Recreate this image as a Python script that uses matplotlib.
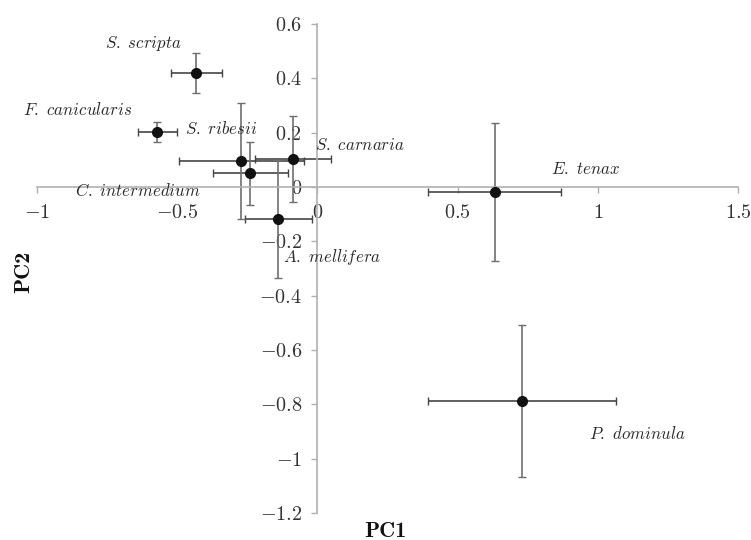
import numpy as np
import matplotlib
matplotlib.use("Agg")
import matplotlib.pyplot as plt

plt.rcParams["font.family"] = ["Liberation Serif", "DejaVu Serif"]
plt.rcParams["mathtext.fontset"] = "cm"

# species means on PC1/PC2 with error bars
species = ["S. scripta", "F. canicularis", "S. ribesii", "C. intermedium",
           "S. carnaria", "A. mellifera", "E. tenax", "P. dominula"]
pc1     = [-0.432, -0.571, -0.271, -0.239, -0.086, -0.139, 0.632, 0.729]
pc2     = [0.419, 0.202, 0.096, 0.051, 0.103, -0.118, -0.018, -0.787]
pc1_err = [0.090, 0.070, 0.223, 0.135, 0.135, 0.118, 0.238, 0.336]
pc2_err = [0.073, 0.037, 0.213, 0.116, 0.158, 0.218, 0.255, 0.280]

# label anchors (left edge, centre)
lab_x = [-0.757, -1.05, -0.471, -0.864, -0.007, -0.121, 0.832, 0.968]
lab_y = [0.529, 0.283, 0.210, -0.018, 0.151, -0.257, 0.0625, -0.912]

x_ticks = [-1, -0.5, 0, 0.5, 1, 1.5]
y_ticks = [-1.2, -1, -0.8, -0.6, -0.4, -0.2, 0, 0.2, 0.4, 0.6]


def tick_text(v):
    return f"${v:g}$"


def ital(s):
    return "$\\mathit{" + s.replace(" ", "\\ ") + "}$"


fig = plt.figure(figsize=(7.51, 5.40), dpi=100)
ax = fig.add_axes([0.0493, 0.05, 0.9334, 0.9056])

ax.errorbar(pc1, pc2, xerr=pc1_err, fmt="none", ecolor="#454545",
            elinewidth=1.2, capsize=3, capthick=1.0, zorder=2)
ax.errorbar(pc1, pc2, yerr=pc2_err, fmt="none", ecolor="#6e6e6e",
            elinewidth=1.2, capsize=3, capthick=1.0, zorder=2)
ax.plot(pc1, pc2, "o", color="#111111", markersize=7, zorder=3)

for name, lx, ly in zip(species, lab_x, lab_y):
    ax.text(lx, ly, ital(name), fontsize=12.2, ha="left", va="center",
            color="#2a2a2a")

ax.set_xlim(-1, 1.5)
ax.set_ylim(-1.2, 0.6)
ax.set_xticks(x_ticks)
ax.set_yticks(y_ticks)
ax.set_xticklabels([tick_text(v) for v in x_ticks])
ax.set_yticklabels([tick_text(v) for v in y_ticks])

for side in ["top", "right"]:
    ax.spines[side].set_visible(False)
ax.spines["left"].set_position(("data", 0))
ax.spines["bottom"].set_position(("data", 0))
for side in ["left", "bottom"]:
    ax.spines[side].set_color("#b0b0b0")
    ax.spines[side].set_linewidth(1.2)
ax.tick_params(axis="both", direction="out", length=4, width=1.0,
               color="#b0b0b0", labelsize=14.5, labelcolor="#333333")
ax.tick_params(axis="x", pad=8)
ax.tick_params(axis="y", pad=7)

fig.text(0.513, 0.0056, "PC1", family="cmb10", fontsize=16, ha="center",
         va="baseline", color="#111111")
fig.text(0.031, 0.496, "PC2", family="cmb10", fontsize=16, rotation=90,
         ha="center", va="center", color="#111111")

fig.savefig("out.png", dpi=100)
